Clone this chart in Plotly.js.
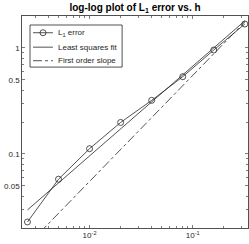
<!DOCTYPE html>
<html><head><meta charset="utf-8">
<script src="https://cdn.plot.ly/plotly-3.0.1.min.js"></script>
<style>html,body{margin:0;padding:0;background:#fff}#plot{width:249px;height:244px}</style>
</head><body><div id="plot"></div>
<script>
var h = [0.0025, 0.005, 0.01, 0.02, 0.04, 0.08, 0.16, 0.32];
var l1Error = [0.0228, 0.0577, 0.112, 0.198, 0.320, 0.535, 0.955, 1.68];
var lsFit = [0.0296, 0.0532, 0.0957, 0.172, 0.309, 0.556, 1.00, 1.80];
var firstOrder = [0.01375, 0.0275, 0.055, 0.11, 0.22, 0.44, 0.88, 1.76];
var seriesNames = ['L<sub>1</sub> error', 'Least squares fit', 'First order slope'];
var yTickVals = [0.05, 0.1, 0.5, 1];
var yTickText = ['0.05', '0.1', '0.5', '1'];
var xTickVals = [0.01, 0.1];
var xTickText = ['10<sup>-2</sup>', '10<sup>-1</sup>'];

var yMinor = [0.02,0.03,0.04,0.06,0.07,0.08,0.09,0.2,0.3,0.4,0.6,0.7,0.8,0.9,2];
var xMinor = [0.003,0.004,0.005,0.006,0.007,0.008,0.009,0.02,0.03,0.04,0.05,0.06,0.07,0.08,0.09,0.2,0.3];

var ink = '#262626';
var traces = [
  {x: h, y: l1Error, type: 'scatter', mode: 'lines+markers', name: seriesNames[0],
   line: {color: ink, width: 0.8}, marker: {symbol: 'circle-open', size: 6, color: ink, line: {width: 0.8}}},
  {x: h, y: lsFit, type: 'scatter', mode: 'lines', name: seriesNames[1],
   line: {color: ink, width: 0.8}},
  {x: h, y: firstOrder, type: 'scatter', mode: 'lines', name: seriesNames[2],
   line: {color: ink, width: 0.8, dash: 'dashdot'}}
];
var font = {family: 'Liberation Sans, Arial, sans-serif', size: 8, color: ink};

// legend drawn in paper coordinates (compact MATLAB-style legend box)
var lgBox = {x0: 0.0354, x1: 0.443, y0: 0.759, y1: 0.9575};
var lgRows = [0.921, 0.853, 0.789];
var lgLine = {x0: 0.0487, x1: 0.137, xc: 0.093, xt: 0.151};
var dashes = ['solid', 'solid', 'dashdot'];
var shapes = [{type: 'rect', xref: 'paper', yref: 'paper', x0: lgBox.x0, x1: lgBox.x1, y0: lgBox.y0, y1: lgBox.y1,
               line: {color: ink, width: 0.8}, fillcolor: '#fff', layer: 'above'}];
var annotations = [];
lgRows.forEach(function (ry, i) {
  shapes.push({type: 'line', xref: 'paper', yref: 'paper', x0: lgLine.x0, x1: lgLine.x1, y0: ry, y1: ry,
               line: {color: ink, width: 0.8, dash: dashes[i]}, layer: 'above'});
  annotations.push({xref: 'paper', yref: 'paper', x: lgLine.xt, y: ry, xanchor: 'left', yanchor: 'middle',
                    text: seriesNames[i], showarrow: false, font: font});
});
shapes.push({type: 'circle', xref: 'paper', yref: 'paper', x0: lgLine.xc - 0.0133, x1: lgLine.xc + 0.0133,
             y0: lgRows[0] - 0.0142, y1: lgRows[0] + 0.0142, line: {color: ink, width: 0.8}, fillcolor: 'rgba(0,0,0,0)', layer: 'above'});

var layout = {
  width: 249, height: 244,
  margin: {l: 22, r: 1, t: 16, b: 16, pad: 0},
  paper_bgcolor: '#fff', plot_bgcolor: '#fff',
  font: font,
  showlegend: false,
  title: {text: '<b>log-log plot of L<sub>1</sub> error vs. h</b>', font: {family: 'Liberation Sans, Arial, sans-serif', size: 10, color: '#000'},
          x: 0.5, xanchor: 'center', xref: 'paper', y: 1 - 7/244, yanchor: 'middle', yref: 'container'},
  xaxis: {type: 'log', range: [-2.655, -0.464], tickmode: 'array', tickvals: xTickVals, ticktext: xTickText,
          ticks: 'inside', ticklen: 3, tickwidth: 0.6, tickcolor: ink, mirror: 'allticks', showline: true,
          linecolor: ink, linewidth: 0.8, showgrid: false, zeroline: false, tickfont: font,
          minor: {tickmode: 'array', tickvals: xMinor, ticks: 'inside', ticklen: 2, tickwidth: 0.6, tickcolor: ink, showgrid: false}},
  yaxis: {type: 'log', range: [Math.log10(0.02), Math.log10(2)], tickmode: 'array', tickvals: yTickVals, ticktext: yTickText,
          ticks: 'inside', ticklen: 3, tickwidth: 0.6, tickcolor: ink, mirror: 'allticks', showline: true,
          linecolor: ink, linewidth: 0.8, showgrid: false, zeroline: false, tickfont: font,
          minor: {tickmode: 'array', tickvals: yMinor, ticks: 'inside', ticklen: 2, tickwidth: 0.6, tickcolor: ink, showgrid: false}},
  shapes: shapes,
  annotations: annotations
};
Plotly.newPlot('plot', traces, layout, {displayModeBar: false, staticPlot: true});
</script></body></html>
